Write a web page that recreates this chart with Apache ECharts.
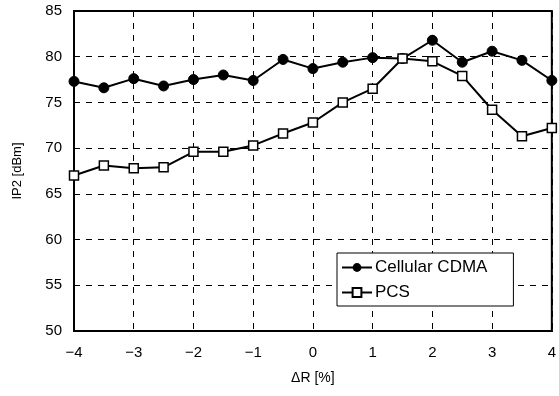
<!DOCTYPE html>
<html>
<head>
<meta charset="utf-8">
<script src="https://cdn.jsdelivr.net/npm/echarts@6/dist/echarts.min.js"></script>
<style>
  html, body { margin: 0; padding: 0; background: #fff; }
  #main { width: 559px; height: 396px; }
</style>
</head>
<body>
<div id="main"></div>
<script>
// detuning in %
const xValues = [-4, -3.5, -3, -2.5, -2, -1.5, -1, -0.5, 0, 0.5, 1, 1.5, 2, 2.5, 3, 3.5, 4];
const cdma = [77.3, 76.6, 77.6, 76.8, 77.5, 78.0, 77.4, 79.7, 78.7, 79.4, 79.9, 79.8, 81.8, 79.4, 80.6, 79.6, 77.4];
const pcs = [67.0, 68.1, 67.8, 67.9, 69.6, 69.6, 70.3, 71.6, 72.8, 75.0, 76.5, 79.8, 79.5, 77.9, 74.2, 71.3, 72.2];
const seriesNames = ["Cellular CDMA", "PCS"];

const pairs = (ys) => xValues.map((x, i) => [x, ys[i]]);

let chart = echarts.init(document.getElementById("main"));
let font = "Liberation Sans, Arial, sans-serif";
let labelFont = { color: "#000", fontSize: 15, fontFamily: font };
let dashed = { show: true, lineStyle: { color: "#000", type: [6, 6], width: 1 } };

chart.setOption({
  animation: false,
  backgroundColor: "#fff",
  grid: { left: 74, right: 2, top: 11, bottom: 65, show: true, borderColor: "#000", borderWidth: 2 },
  legend: {
    data: seriesNames,
    orient: "vertical",
    left: 337,
    top: 253,
    backgroundColor: "#fff",
    borderColor: "#000",
    borderWidth: 1,
    borderRadius: 0,
    padding: [6, 26, 5, 4],
    itemGap: 8,
    itemWidth: 30,
    itemHeight: 11,
    textStyle: { color: "#000", fontSize: 17, fontFamily: font, padding: [0, 0, 0, -2] },
  },
  xAxis: {
    type: "value",
    min: -4,
    max: 4,
    interval: 1,
    name: "ΔR [%]",
    nameLocation: "middle",
    nameGap: 40,
    nameTextStyle: { color: "#000", fontSize: 14, fontFamily: font },
    axisLine: { onZero: false, lineStyle: { color: "#000", width: 2 } },
    axisTick: { show: false },
    axisLabel: Object.assign({ margin: 14, formatter: (v) => (v < 0 ? "\u2212" + (-v) : String(v)) }, labelFont),
    splitLine: dashed,
  },
  yAxis: {
    type: "value",
    min: 50,
    max: 85,
    interval: 5,
    name: "IP2 [dBm]",
    nameLocation: "middle",
    nameGap: 50,
    nameTextStyle: { color: "#000", fontSize: 13, fontFamily: font },
    axisLine: { onZero: false, lineStyle: { color: "#000", width: 2 } },
    axisTick: { show: false },
    axisLabel: Object.assign({ margin: 12 }, labelFont),
    splitLine: dashed,
  },
  series: [
    {
      name: seriesNames[0],
      type: "line",
      data: pairs(cdma),
      symbol: "circle",
      symbolSize: 10,
      z: 2,
      lineStyle: { color: "#000", width: 2 },
      itemStyle: { color: "#000", borderColor: "#000" },
    },
    {
      name: seriesNames[1],
      type: "line",
      data: pairs(pcs),
      symbol: "rect",
      symbolSize: 9,
      z: 3,
      lineStyle: { color: "#000", width: 2 },
      itemStyle: { color: "#fff", borderColor: "#000", borderWidth: 1.5 },
    },
  ],
});
</script>
</body>
</html>
